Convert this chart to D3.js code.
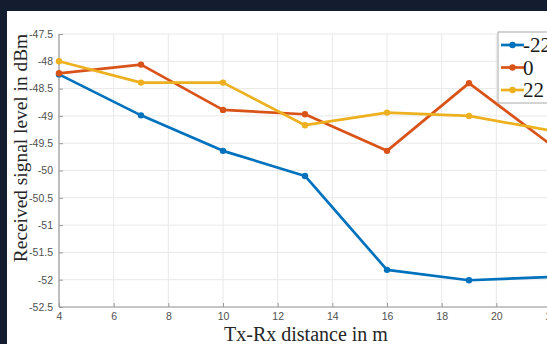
<!DOCTYPE html>
<html>
<head>
<meta charset="utf-8">
<script src="https://cdn.jsdelivr.net/npm/d3@7"></script>
<style>
  html, body { margin: 0; padding: 0; background: #141c2f; }
  svg { display: block; }
</style>
</head>
<body>
<svg id="chart" width="547" height="344"></svg>
<script>
const distances = [4, 7, 10, 13, 16, 19, 22];
const seriesNames = ["-22", "0", "22"];
const seriesNeg22 = [-48.24, -48.99, -49.64, -50.10, -51.82, -52.01, -51.95];
const series0     = [-48.22, -48.06, -48.89, -48.97, -49.64, -48.40, -49.53];
const series22    = [-48.00, -48.39, -48.39, -49.17, -48.94, -49.00, -49.27];
const xTicks = [4, 6, 8, 10, 12, 14, 16, 18, 20, 22];
const yTicks = [-47.5, -48, -48.5, -49, -49.5, -50, -50.5, -51, -51.5, -52, -52.5];
const colors = ["#0072BD", "#D95319", "#EDB120"];
const xLabel = "Tx-Rx distance in m";
const yLabel = "Received signal level in dBm";

const allSeries = [seriesNeg22, series0, series22];

const svg = d3.select("#chart");
// white figure area
svg.append("rect").attr("x", 7).attr("y", 11).attr("width", 540).attr("height", 333).attr("fill", "#ffffff");

const x = d3.scaleLinear().domain([4, 22]).range([59, 551]);
const y = d3.scaleLinear().domain([-52.5, -47.5]).range([307, 34]);

// grid
const grid = svg.append("g");
grid.selectAll("line.gx").data(xTicks).enter().append("line")
  .attr("x1", d => x(d)).attr("x2", d => x(d)).attr("y1", y(-47.5)).attr("y2", y(-52.5))
  .attr("stroke", "#e8e8e8").attr("stroke-width", 1);
grid.selectAll("line.gy").data(yTicks).enter().append("line")
  .attr("x1", x(4)).attr("x2", x(22)).attr("y1", d => y(d)).attr("y2", d => y(d))
  .attr("stroke", "#e8e8e8").attr("stroke-width", 1);

// axes
const xAxis = d3.axisBottom(x).tickValues(xTicks).tickSize(-4).tickPadding(6).tickFormat(d3.format("d"));
const yAxis = d3.axisLeft(y).tickValues(yTicks).tickSize(-4).tickPadding(6).tickFormat(d => String(d));

const gx = svg.append("g").attr("transform", `translate(0,${y(-52.5)})`).call(xAxis);
const gy = svg.append("g").attr("transform", `translate(${x(4)},0)`).call(yAxis);
[gx, gy].forEach(g => {
  g.select(".domain").attr("stroke", "#9a9a9a").attr("stroke-width", 1.2);
  g.selectAll(".tick line").attr("stroke", "#9a9a9a");
  g.selectAll(".tick text").attr("fill", "#505050")
    .style("font-family", "Arial, 'Liberation Sans', sans-serif").style("font-size", "10.5px");
});
gx.select(".domain").attr("d", `M${x(4)},0H${x(22)}`);
gy.select(".domain").attr("d", `M0,${y(-52.5)}V${y(-47.5)}`);

// lines
const line = d3.line().x((d, i) => x(distances[i])).y(d => y(d));
allSeries.forEach((s, k) => {
  svg.append("path").datum(s).attr("d", line)
    .attr("fill", "none").attr("stroke", colors[k]).attr("stroke-width", 2.7)
    .attr("stroke-linejoin", "round");
  svg.selectAll(null).data(s).enter().append("circle")
    .attr("cx", (d, i) => x(distances[i])).attr("cy", d => y(d)).attr("r", 3.2)
    .attr("fill", colors[k]);
});

// axis labels
svg.append("text").attr("x", 306).attr("y", 341).attr("text-anchor", "middle")
  .style("font-family", "'Liberation Serif', 'Times New Roman', serif").style("font-size", "20px")
  .attr("fill", "#262626").text(xLabel);
svg.append("text").attr("transform", "translate(27,148) rotate(-90)").attr("text-anchor", "middle")
  .style("font-family", "'Liberation Serif', 'Times New Roman', serif").style("font-size", "19.4px")
  .attr("fill", "#262626").text(yLabel);

// legend
const lg = svg.append("g");
lg.append("rect").attr("x", 498).attr("y", 32).attr("width", 80).attr("height", 71)
  .attr("fill", "#ffffff").attr("stroke", "#a8a8a8").attr("stroke-width", 1);
seriesNames.forEach((name, k) => {
  const cy = 45 + k * 22.5;
  lg.append("line").attr("x1", 501).attr("x2", 524).attr("y1", cy).attr("y2", cy)
    .attr("stroke", colors[k]).attr("stroke-width", 2.7);
  lg.append("circle").attr("cx", 512.5).attr("cy", cy).attr("r", 3.2).attr("fill", colors[k]);
  lg.append("text").attr("x", 523).attr("y", cy + 7)
    .style("font-family", "'Liberation Serif', 'Times New Roman', serif").style("font-size", "21px")
    .attr("fill", "#1a1a1a").text(name);
});
</script>
</body>
</html>
